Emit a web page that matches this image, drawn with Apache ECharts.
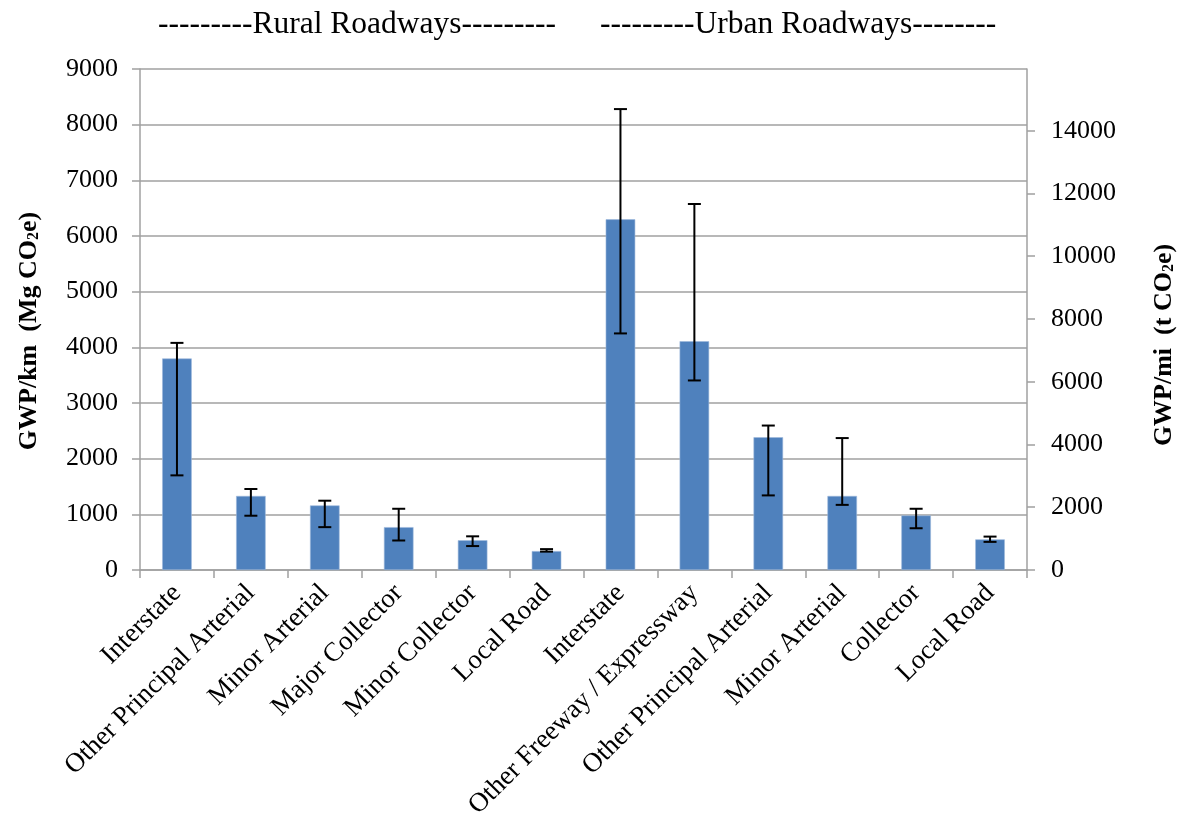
<!DOCTYPE html>
<html>
<head>
<meta charset="utf-8">
<script src="https://cdn.jsdelivr.net/npm/echarts@6/dist/echarts.min.js"></script>
<style>
  html, body { margin: 0; padding: 0; background: #fff; }
  #main { width: 1182px; height: 818px; }
</style>
</head>
<body>
<div id="main"></div>
<script>
// road classes, rural first then urban
var categories = ['Interstate', 'Other Principal Arterial', 'Minor Arterial', 'Major Collector', 'Minor Collector', 'Local Road',
  'Interstate', 'Other Freeway / Expressway', 'Other Principal Arterial', 'Minor Arterial', 'Collector', 'Local Road'];
// GWP per km (Mg CO2e)
var gwpMean = [3800, 1330, 1160, 770, 535, 340, 6300, 4110, 2385, 1330, 980, 550];
var errHigh = [4080, 1455, 1245, 1100, 605, 375, 8280, 6575, 2595, 2370, 1100, 600];
var errLow = [1700, 975, 770, 530, 430, 330, 4250, 3405, 1340, 1170, 750, 505];
var leftTicks = [0, 9000, 1000];   // min, max, interval
// Mg/km -> short ton/mi
var kmToMi = 1.609344 * 1.102311;

var FONT = 'Liberation Serif';
var GRID_COLOR = '#a0a0a0';

var errData = categories.map(function (c, i) { return [i, errLow[i], errHigh[i]]; });

var chart = echarts.init(document.getElementById('main'));

chart.setOption({
  animation: false,
  textStyle: { fontFamily: FONT },
  grid: { left: 140, right: 155, top: 69, bottom: 248, outerBoundsMode: 'none', containLabel: false },
  graphic: [
    {
      type: 'text', left: 158, top: 9,
      style: { text: '---------Rural Roadways---------', font: '31.5px "Liberation Serif"', fill: '#000' }
    },
    {
      type: 'text', left: 600, top: 9,
      style: { text: '---------Urban Roadways--------', font: '31.5px "Liberation Serif"', fill: '#000' }
    },
    {
      type: 'text', x: 29, y: 331, rotation: Math.PI / 2,
      style: {
        text: '{b|GWP/km  (Mg CO}{s|2}{b|e)}',
        align: 'center', verticalAlign: 'middle',
        rich: {
          b: { fontFamily: FONT, fontWeight: 'bold', fontSize: 26, color: '#000' },
          s: { fontFamily: FONT, fontWeight: 'bold', fontSize: 16, color: '#000', padding: [10, 0, 0, 0] }
        }
      }
    },
    {
      type: 'text', x: 1164, y: 345, rotation: Math.PI / 2,
      style: {
        text: '{b|GWP/mi  (t CO}{s|2}{b|e)}',
        align: 'center', verticalAlign: 'middle',
        rich: {
          b: { fontFamily: FONT, fontWeight: 'bold', fontSize: 26, color: '#000' },
          s: { fontFamily: FONT, fontWeight: 'bold', fontSize: 16, color: '#000', padding: [10, 0, 0, 0] }
        }
      }
    }
  ],
  xAxis: {
    type: 'category',
    data: categories,
    boundaryGap: true,
    axisLine: { lineStyle: { color: GRID_COLOR, width: 1.5 } },
    axisTick: { show: true, length: 8, lineStyle: { color: GRID_COLOR, width: 1.5 } },
    axisLabel: { interval: 0, rotate: 45, margin: 19, fontSize: 27, color: '#000', fontFamily: FONT }
  },
  yAxis: [
    {
      type: 'value',
      min: leftTicks[0], max: leftTicks[1], interval: leftTicks[2],
      axisLine: { show: true, lineStyle: { color: GRID_COLOR, width: 1.5 } },
      axisTick: { show: true, length: 8, lineStyle: { color: GRID_COLOR, width: 1.5 } },
      axisLabel: {
        margin: 22, fontSize: 26, color: '#000', fontFamily: FONT,
        formatter: function (v) { return String(v); }
      },
      splitLine: { show: true, lineStyle: { color: GRID_COLOR, width: 1.5 } }
    },
    {
      type: 'value',
      min: 0, max: leftTicks[1] * kmToMi, interval: 2000,
      axisLine: { show: true, lineStyle: { color: GRID_COLOR, width: 1.5 } },
      axisTick: { show: true, length: 8, lineStyle: { color: GRID_COLOR, width: 1.5 } },
      axisLabel: {
        margin: 24, fontSize: 26, color: '#000', fontFamily: FONT, showMaxLabel: false,
        formatter: function (v) { return v % 2000 === 0 ? String(v) : ''; }
      },
      splitLine: { show: false }
    }
  ],
  series: [
    {
      type: 'bar',
      data: gwpMean,
      barWidth: '40%',
      itemStyle: { color: '#4f81bd', borderColor: '#9db9dc', borderWidth: 0.6 }
    },
    {
      type: 'custom',
      data: errData,
      encode: { x: 0, y: [1, 2] },
      z: 10,
      renderItem: function (params, api) {
        var lo = api.coord([api.value(0), api.value(1)]);
        var hi = api.coord([api.value(0), api.value(2)]);
        var hw = 6.5;
        var st = { stroke: '#000', lineWidth: 2 };
        return {
          type: 'group',
          children: [
            { type: 'line', shape: { x1: hi[0], y1: hi[1], x2: lo[0], y2: lo[1] }, style: st },
            { type: 'line', shape: { x1: hi[0] - hw, y1: hi[1], x2: hi[0] + hw, y2: hi[1] }, style: st },
            { type: 'line', shape: { x1: lo[0] - hw, y1: lo[1], x2: lo[0] + hw, y2: lo[1] }, style: st }
          ]
        };
      }
    }
  ]
});
</script>
</body>
</html>
